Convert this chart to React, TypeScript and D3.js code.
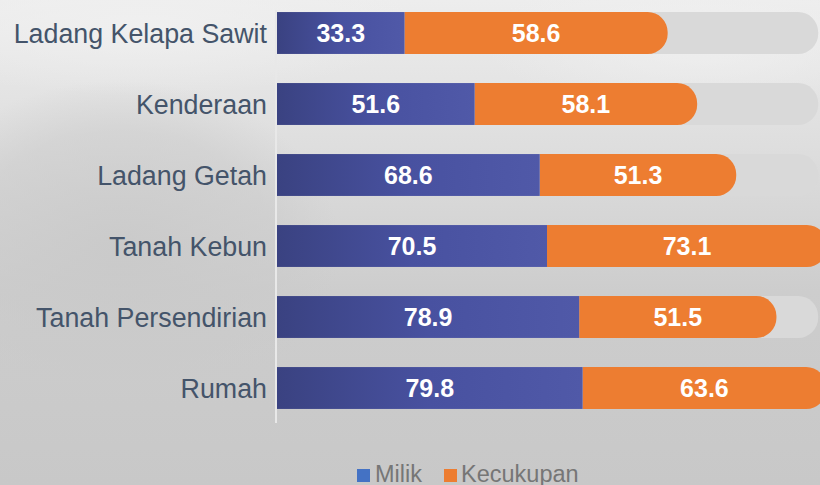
import React from "react";
import * as d3 from "d3";

const categories = ["Ladang Kelapa Sawit", "Kenderaan", "Ladang Getah", "Tanah Kebun", "Tanah Persendirian", "Rumah"];
const milik = [33.3, 51.6, 68.6, 70.5, 78.9, 79.8];
const kecukupan = [68.7, 58.1, 51.3, 73.1, 51.5, 63.6];
const kecukupanLabels = ["58.6", "58.1", "51.3", "73.1", "51.5", "63.6"];
const trackMax = 141.3;
const legendItems = ["Milik", "Kecukupan"];

const W = 820;
const H = 485;

function roundRight(x0: number, y: number, w: number, h: number, r: number) {
  const rr = Math.min(r, h / 2, w);
  const x1 = x0 + w;
  return `M${x0},${y}H${x1 - rr}A${rr},${rr} 0 0 1 ${x1},${y + rr}V${y + h - rr}A${rr},${rr} 0 0 1 ${x1 - rr},${y + h}H${x0}Z`;
}

export default function App() {
  const x = d3.scaleLinear().domain([0, 150]).range([277, 277 + 150 * 3.83]);
  const y = d3.scaleBand<string>().domain(categories).range([-2.5, 423.5]).paddingInner(0.41).paddingOuter(0.205);
  const bh = y.bandwidth();
  const font = "'Liberation Sans', Arial, sans-serif";

  return (
    <svg width={W} height={H} style={{ position: "absolute", left: 0, top: 0, display: "block" }}>
      <defs>
        <linearGradient id="bg" x1="0" y1="0" x2="0" y2="1">
          <stop offset="0" stopColor="#ededed" />
          <stop offset="0.3" stopColor="#dedede" />
          <stop offset="0.6" stopColor="#cdcdcd" />
          <stop offset="1" stopColor="#c8c8c8" />
        </linearGradient>
        <radialGradient id="tree" cx="0.5" cy="0.5" r="0.5">
          <stop offset="0" stopColor="#c8c8c8" stopOpacity="0.8" />
          <stop offset="0.7" stopColor="#cacaca" stopOpacity="0.5" />
          <stop offset="1" stopColor="#cacaca" stopOpacity="0" />
        </radialGradient>
        <radialGradient id="light" cx="0.5" cy="0.5" r="0.5">
          <stop offset="0" stopColor="#f0f0f0" stopOpacity="0.9" />
          <stop offset="1" stopColor="#f0f0f0" stopOpacity="0" />
        </radialGradient>
        <linearGradient id="blue" x1="0" y1="0" x2="1" y2="0">
          <stop offset="0" stopColor="#3a4281" />
          <stop offset="0.5" stopColor="#4851a0" />
          <stop offset="1" stopColor="#5059a8" />
        </linearGradient>
      </defs>
      <rect x={0} y={0} width={W} height={H} fill="url(#bg)" />
      <ellipse cx={120} cy={250} rx={220} ry={170} fill="url(#tree)" />
      <ellipse cx={140} cy={25} rx={280} ry={70} fill="url(#light)" />
      <ellipse cx={700} cy={40} rx={220} ry={70} fill="url(#light)" />
      <line x1={276} x2={276} y1={10} y2={423} stroke="#e8e8e8" strokeWidth={2} />
      {categories.map((c, i) => {
        const yy = y(c)!;
        const x0 = x(0);
        const xm = x(milik[i]);
        const xk = x(milik[i] + kecukupan[i]);
        return (
          <g key={c}>
            <path d={roundRight(x0, yy, x(trackMax) - x0, bh, 20)} fill="#d9d9d9" />
            <path d={roundRight(xm, yy, xk - xm, bh, 20)} fill="#ed7d31" />
            <rect x={x0} y={yy} width={xm - x0} height={bh} fill="url(#blue)" />
            <text x={(x0 + xm) / 2} y={yy + bh / 2} dy="0.36em" textAnchor="middle" fill="#ffffff" fontFamily={font} fontWeight="bold" fontSize={25}>
              {milik[i].toFixed(1)}
            </text>
            <text x={(xm + xk) / 2} y={yy + bh / 2} dy="0.36em" textAnchor="middle" fill="#ffffff" fontFamily={font} fontWeight="bold" fontSize={25}>
              {kecukupanLabels[i]}
            </text>
            <text x={267} y={yy + bh / 2} dy="0.36em" textAnchor="end" fill="#44546a" fontFamily={font} fontSize={26.8}>
              {c}
            </text>
          </g>
        );
      })}
      <g fontFamily={font} fontSize={23.5} fill="#767676">
        <rect x={357} y={469} width={13} height={13} fill="#4472c4" />
        <text x={375} y={482}>{legendItems[0]}</text>
        <rect x={444} y={469} width={13} height={13} fill="#ed7d31" />
        <text x={461} y={482}>{legendItems[1]}</text>
      </g>
    </svg>
  );
}
